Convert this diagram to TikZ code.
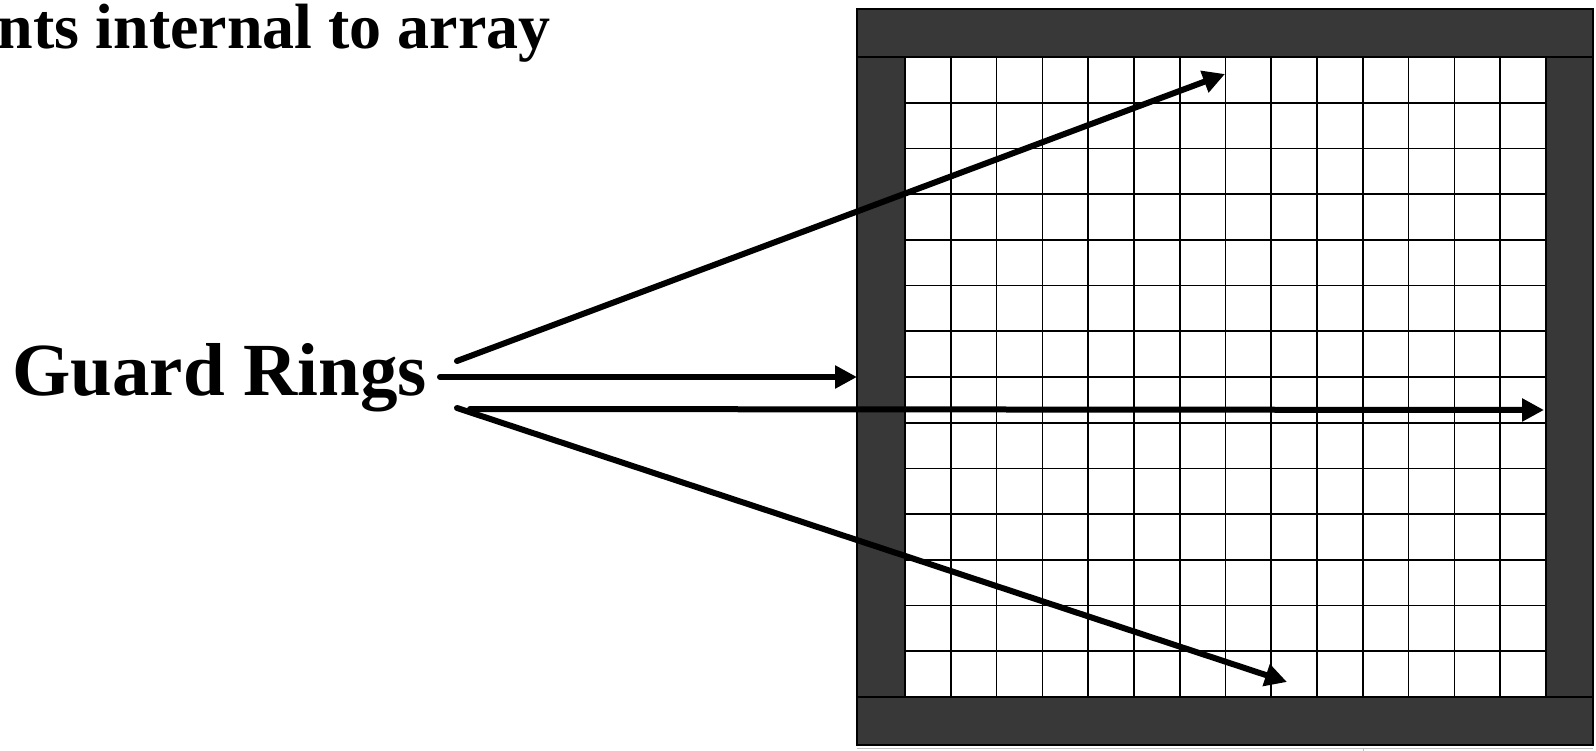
\documentclass[tikz,border=0pt]{standalone}
\usepackage{fontspec}
\setmainfont{Liberation Serif}
\usetikzlibrary{arrows.meta,positioning}
\definecolor{ringgray}{HTML}{383838}

\begin{document}
\begin{tikzpicture}[x=1pt,y=-1pt,>={Triangle[length=22pt,width=22pt]},
  ptr/.style={->,line width=6pt,line cap=round},
  bigtext/.style={font=\bfseries\fontsize{75}{82}\selectfont,inner sep=0pt},
  toptext/.style={font=\bfseries\fontsize{64}{70}\selectfont,inner sep=0pt},
  cell/.style={line width=1.6pt}]
  \useasboundingbox (0,0) rectangle (1596,751);
  \def\X{905} \def\Y{57} \def\W{641} \def\H{640}
  % labels
  \node[toptext,anchor=base east] (note) at (551,49) {nts internal to array};
  \node[bigtext,anchor=base west] (guard) at (12,395) {Guard Rings};
  % guard ring and array
  \filldraw[fill=ringgray,draw=black,line width=2pt] (857,9) rectangle (1593,745);
  \draw[line width=2pt] (857,\Y) -- (1593,\Y) (857,\Y+\H) -- (1593,\Y+\H);
  \filldraw[fill=white,draw=black,line width=2pt] (\X,\Y) rectangle (\X+\W,\Y+\H);
  \foreach \i in {1,...,13} {
    \draw[cell] ({\X+\i*\W/14},\Y) -- ++(0,\H);
    \draw[cell] (\X,{\Y+\i*\H/14}) -- ++(\W,0);
  }
  \draw[gray!50,line width=1pt] (857,748) -- (1593,748) (1363,748) -- (1363,751);
  % arrows
  \coordinate (srcA) at (457,361);
  \coordinate (srcB) at (440,377);
  \coordinate (srcC) at (470,409);
  \coordinate (srcD) at (457,408);
  \coordinate (tipA) at (1225,74);
  \coordinate (tipB) at (857,377);
  \coordinate (tipC) at (1544,410);
  \coordinate (tipD) at (1287,682);
  \draw[ptr] (srcA) -- (tipA);
  \draw[ptr] (srcB) -- (tipB);
  \draw[ptr] (srcC) -- (tipC);
  \draw[ptr] (srcD) -- (tipD);
\end{tikzpicture}
\end{document}
